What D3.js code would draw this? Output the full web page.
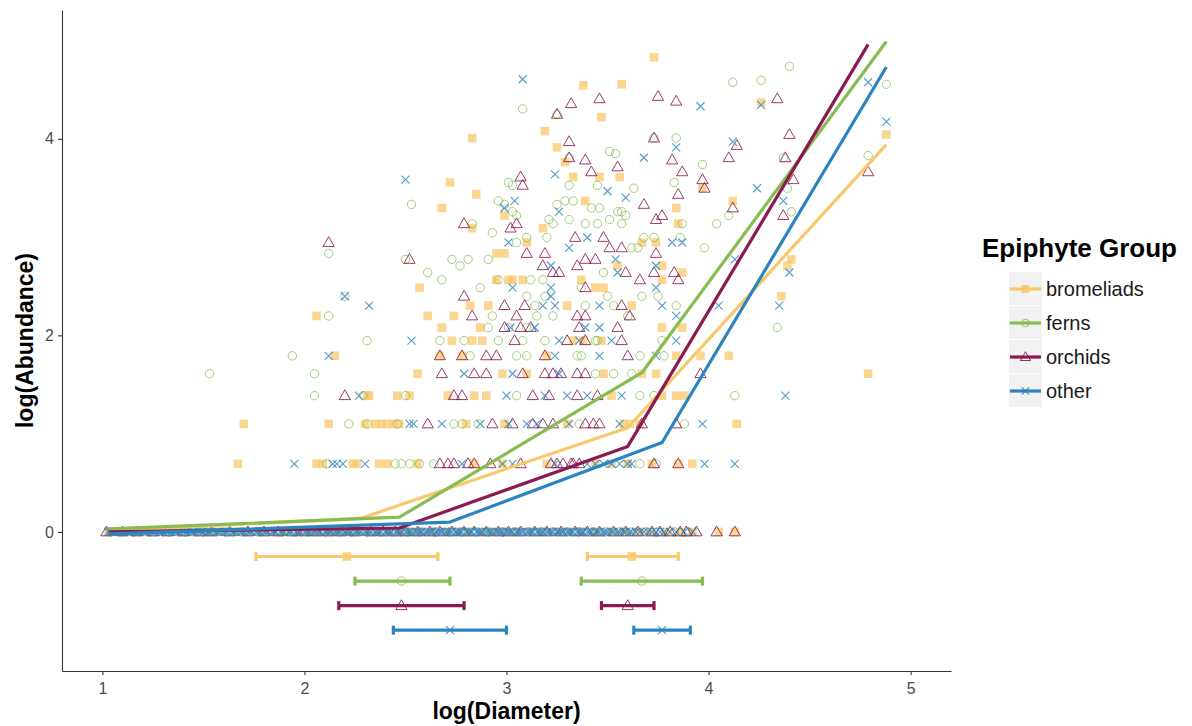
<!DOCTYPE html>
<html>
<head>
<meta charset="utf-8">
<script src="https://cdn.jsdelivr.net/npm/d3@7"></script>
<style>
    body { margin: 0; background: #fff; }
    svg { font-family: "Liberation Sans", Arial, sans-serif; }
</style>
</head>
<body>
<div class="chart"></div>
<script>
// groups, colours
const groups = ["bromeliads", "ferns", "orchids", "other"];
const groupColors = ["#f8c86c", "#86bc52", "#8b1a50", "#2c84bf"];

const xTicks = [1, 2, 3, 4, 5];
const yTicks = [0, 2, 4];

// points: [log(Diameter), Abundance]  (Abundance 1 -> the row at 0)
const bromeliadsZero = [1.03, 1.06, 1.11, 1.18, 1.22, 1.29, 1.37, 1.44, 1.52, 1.58, 1.66, 1.71, 1.79, 1.84, 1.9, 1.97, 2.03, 2.07, 2.13, 2.19, 2.24, 2.3, 2.36, 2.41, 2.47, 2.52, 2.58, 2.63, 2.7, 2.76, 2.81, 2.88, 2.94, 2.99, 3.05, 3.12, 3.18, 3.25, 3.31, 3.37, 3.44, 3.52, 3.58, 3.66, 3.71, 3.79, 3.86, 3.92, 4.05, 4.13];
const fernsZero = [1.04, 1.09, 1.15, 1.23, 1.33, 1.41, 1.5, 1.61, 1.69, 1.77, 1.88, 1.95, 2.02, 2.1, 2.17, 2.23, 2.31, 2.38, 2.44, 2.51, 2.57, 2.65, 2.72, 2.78, 2.85, 2.91, 2.98, 3.04, 3.11, 3.17, 3.23, 3.3, 3.36, 3.43, 3.49, 3.56, 3.62, 3.69, 3.75, 3.83, 3.9];
const orchidsZero = [1.02, 1.1, 1.17, 1.25, 1.32, 1.4, 1.48, 1.54, 1.63, 1.72, 1.8, 1.87, 1.94, 2.0, 2.06, 2.12, 2.18, 2.25, 2.33, 2.39, 2.45, 2.5, 2.56, 2.62, 2.67, 2.73, 2.79, 2.84, 2.9, 2.96, 3.01, 3.07, 3.14, 3.2, 3.27, 3.34, 3.4, 3.46, 3.53, 3.59, 3.65, 3.72, 3.76, 3.81, 3.86, 3.89, 3.94, 4.04, 4.13];
const otherZero = [1.03, 1.04, 1.05, 1.07, 1.08, 1.09, 1.1, 1.12, 1.13, 1.14, 1.16, 1.17, 1.18, 1.2, 1.21, 1.22, 1.24, 1.25, 1.26, 1.28, 1.29, 1.3, 1.32, 1.33, 1.34, 1.36, 1.37, 1.38, 1.4, 1.41, 1.42, 1.44, 1.45, 1.46, 1.48, 1.49, 1.5, 1.52, 1.53, 1.54, 1.56, 1.57, 1.58, 1.6, 1.61, 1.62, 1.64, 1.65, 1.66, 1.68, 1.69, 1.7, 1.72, 1.73, 1.74, 1.76, 1.77, 1.78, 1.8, 1.81, 1.82, 1.84, 1.85, 1.86, 1.88, 1.89, 1.9, 1.92, 1.93, 1.94, 1.96, 1.97, 1.98,
    2.0, 2.01, 2.02, 2.03, 2.05, 2.06, 2.07, 2.08, 2.1, 2.11, 2.12, 2.13, 2.15, 2.16, 2.17, 2.18, 2.2, 2.21, 2.22, 2.23, 2.25, 2.26, 2.27, 2.28, 2.3, 2.31, 2.32, 2.33, 2.35, 2.36, 2.37, 2.38, 2.4, 2.41, 2.42, 2.43, 2.45, 2.46, 2.47, 2.48, 2.5, 2.51, 2.52, 2.53, 2.55, 2.56, 2.57, 2.58, 2.6, 2.61, 2.62, 2.63, 2.65, 2.66, 2.67, 2.68, 2.7, 2.71, 2.72, 2.73, 2.75, 2.76, 2.77, 2.78, 2.8, 2.81, 2.82, 2.83, 2.85, 2.86, 2.87, 2.88, 2.9, 2.91, 2.92, 2.93, 2.95, 2.96, 2.97, 2.98,
    3.0, 3.01, 3.02, 3.03, 3.05, 3.06, 3.07, 3.08, 3.1, 3.11, 3.12, 3.13, 3.15, 3.16, 3.17, 3.18, 3.2, 3.21, 3.22, 3.23, 3.25, 3.26, 3.27, 3.28, 3.3, 3.31, 3.32, 3.33, 3.35, 3.36, 3.37, 3.38, 3.4, 3.41, 3.42, 3.44, 3.45, 3.46, 3.48, 3.49, 3.5, 3.52, 3.53, 3.55, 3.56, 3.58, 3.59, 3.61, 3.62, 3.64, 3.66, 3.68, 3.7, 3.72, 3.74, 3.76, 3.78, 3.81, 3.84, 3.88, 3.92];

const bromeliadsPts = [[3.73, 125], [3.38, 94], [3.57, 95], [3.47, 68], [3.19, 59], [2.83, 55], [3.25, 50], [3.29, 43], [4.26, 79], [4.88, 57],
    [3.33, 37], [3.46, 37], [3.56, 37], [2.72, 35], [3.97, 33], [2.85, 31], [3.39, 29], [4.12, 29], [2.68, 27], [3.84, 27],
    [2.99, 25], [3.85, 23], [2.83, 22], [3.18, 22], [3.10, 19], [3.67, 19], [3.74, 19], [2.95, 17], [2.99, 17], [4.41, 16],
    [4.39, 15], [3.55, 15], [3.77, 15], [3.87, 14], [3.01, 13], [2.95, 13], [3.03, 13], [3.08, 13], [3.77, 13], [3.37, 13],
    [2.57, 12], [3.44, 12], [3.48, 12], [4.36, 11], [2.82, 10], [2.91, 10], [3.30, 10], [3.62, 10], [2.61, 9], [2.74, 9], [2.06, 9],
    [2.68, 8], [2.87, 8], [3.77, 8], [3.87, 8],
    [2.15, 6], [2.73, 7], [2.83, 7], [2.88, 7], [3.33, 7], [3.47, 7], [3.38, 7],
    [2.67, 6], [2.78, 6], [3.84, 6], [3.96, 6], [4.10, 6], [3.20, 6],
    [2.56, 5], [2.98, 5], [3.10, 5], [3.48, 5], [3.67, 5], [3.74, 5], [4.79, 5],
    [2.32, 4], [2.31, 4], [2.46, 4], [2.52, 4], [2.71, 4], [2.84, 4], [2.90, 4], [3.52, 4], [3.77, 4], [3.84, 4], [3.88, 4],
    [1.70, 3], [2.12, 3], [2.30, 3], [2.35, 3], [2.38, 3], [2.41, 3], [2.44, 3], [2.47, 3], [2.80, 3], [2.99, 3], [3.30, 3], [3.58, 3], [3.61, 3], [3.66, 3], [4.14, 3],
    [1.67, 2], [2.06, 2], [2.09, 2], [2.24, 2], [2.26, 2], [2.37, 2], [2.41, 2], [2.56, 2], [2.84, 2], [2.98, 2], [3.20, 2], [3.44, 2], [3.52, 2], [3.60, 2], [3.72, 2], [3.85, 2], [3.92, 2]];

const fernsPts = [[4.40, 114], [4.26, 99], [4.12, 97], [4.88, 95], [3.08, 74], [3.25, 70], [3.73, 55], [3.84, 55], [3.51, 48], [3.54, 47],
    [4.79, 46], [3.31, 45], [4.37, 45], [3.97, 42], [3.01, 35], [3.03, 34], [3.83, 35], [3.31, 34], [3.45, 34], [3.63, 33], [4.39, 33],
    [2.96, 29], [3.29, 29], [3.33, 29], [2.53, 28], [2.99, 28], [3.25, 28], [3.42, 27], [3.46, 27], [3.03, 26], [3.55, 26], [3.57, 26], [4.41, 26],
    [3.05, 25], [3.59, 25], [4.10, 25], [3.21, 24], [3.31, 24], [3.51, 24], [3.23, 23], [2.83, 23], [3.39, 23], [3.45, 23], [3.57, 23], [3.87, 23], [4.04, 23],
    [2.93, 21], [3.20, 20], [3.10, 20], [3.68, 20], [3.73, 20], [3.86, 20], [3.05, 19], [3.62, 18], [3.65, 18], [3.98, 18], [2.12, 17],
    [2.50, 16], [2.73, 16], [2.81, 16], [2.91, 16], [2.77, 15], [2.61, 14], [3.48, 14], [2.68, 13], [3.12, 13], [3.18, 13], [2.96, 13],
    [2.87, 12], [3.37, 12], [2.20, 11], [3.10, 11], [3.19, 11], [3.50, 11], [3.67, 11], [3.75, 11],
    [3.14, 10], [3.39, 10], [3.53, 10], [3.84, 10], [2.12, 9], [2.93, 9], [3.15, 9], [3.23, 9], [3.60, 9],
    [2.91, 8], [3.01, 8], [3.10, 8], [4.34, 8], [2.31, 7], [2.67, 7], [2.79, 7], [2.96, 7], [3.08, 7], [3.19, 7], [3.44, 7], [3.45, 7], [3.77, 7],
    [1.94, 6], [2.82, 6], [3.05, 6], [3.10, 6], [3.35, 6], [3.37, 6], [3.66, 6], [3.78, 6],
    [1.53, 5], [2.05, 5], [3.44, 5], [3.53, 5], [3.62, 5],
    [2.05, 4], [2.29, 4], [2.50, 4], [3.05, 4], [3.66, 4], [3.73, 4], [4.13, 4],
    [2.22, 3], [2.31, 3], [2.46, 3], [2.74, 3], [2.78, 3], [2.86, 3], [3.36, 3], [3.88, 3],
    [2.11, 2], [2.45, 2], [2.48, 2], [2.52, 2], [2.57, 2], [2.64, 2], [3.66, 2], [3.74, 2]];

const orchidsPts = [[3.46, 82], [3.75, 84], [3.84, 80], [4.34, 82], [3.32, 78], [3.25, 70], [4.40, 57], [3.73, 55], [3.31, 53], [4.14, 51],
    [3.31, 45], [4.10, 45], [4.38, 45], [3.39, 44], [3.82, 44], [3.55, 41], [3.42, 39], [3.87, 39], [4.79, 39], [3.07, 37], [3.97, 36], [4.42, 36],
    [3.08, 34], [3.98, 33], [3.85, 31], [3.68, 28], [4.12, 27], [3.77, 25], [4.37, 25], [3.74, 24], [2.79, 23], [3.05, 23], [3.02, 22],
    [3.34, 20], [3.48, 20], [2.12, 19], [3.51, 18], [3.57, 18], [3.10, 17], [3.19, 17], [3.74, 17], [2.52, 16], [3.39, 16], [3.44, 16],
    [3.18, 15], [3.35, 15], [3.23, 14], [3.26, 14], [3.59, 14], [3.73, 14], [3.83, 14], [3.66, 13], [3.85, 13], [3.39, 12],
    [2.79, 11], [2.99, 10], [3.09, 10], [3.57, 10], [2.83, 9], [3.05, 9], [3.35, 9], [3.39, 9], [3.61, 9],
    [2.99, 8], [3.07, 8], [3.12, 8], [3.36, 8], [3.55, 8], [3.04, 7], [3.30, 7], [3.39, 7], [3.57, 7],
    [2.67, 6], [2.78, 6], [2.90, 6], [2.95, 6], [3.19, 6], [3.60, 6],
    [2.68, 5], [2.84, 5], [2.90, 5], [3.08, 5], [3.19, 5], [3.23, 5], [3.27, 5], [3.35, 5], [3.39, 5], [3.96, 5],
    [2.20, 4], [2.74, 4], [2.78, 4], [3.13, 4], [3.21, 4], [3.35, 4], [3.45, 4],
    [2.61, 3], [2.93, 3], [3.03, 3], [3.13, 3], [3.18, 3], [3.23, 3], [3.39, 3], [3.43, 3], [3.46, 3], [3.67, 3], [3.84, 3],
    [2.67, 2], [2.71, 2], [2.74, 2], [2.81, 2], [2.84, 2], [2.92, 2], [3.07, 2], [3.22, 2], [3.25, 2], [3.28, 2], [3.32, 2], [3.33, 2], [3.36, 2], [3.73, 2], [3.85, 2]];

const otherPts = [[3.08, 100], [4.79, 97], [4.26, 77], [3.96, 76], [4.88, 65], [4.12, 53], [3.84, 50], [3.68, 45], [3.24, 38], [2.50, 36],
    [4.24, 33], [3.50, 32], [3.59, 30], [4.37, 29], [3.04, 29], [2.99, 27], [3.26, 26], [3.40, 20], [3.01, 19], [3.82, 19], [3.87, 19],
    [3.31, 18], [3.54, 16], [4.13, 16], [3.22, 15], [3.74, 15], [3.55, 14], [4.40, 14], [3.03, 12], [3.22, 12], [3.74, 12],
    [2.20, 11], [3.22, 11], [2.32, 10], [3.18, 10], [3.24, 10], [3.46, 10], [3.77, 10], [4.05, 10], [4.35, 10], [3.84, 9],
    [3.02, 8], [3.14, 8], [3.39, 8], [3.46, 8], [2.53, 7], [3.26, 7], [3.36, 7], [3.52, 7], [3.84, 7],
    [2.12, 6], [3.24, 6], [3.46, 6], [3.74, 6], [2.79, 5], [3.03, 5], [3.26, 5],
    [2.27, 4], [3.00, 4], [3.19, 4], [3.30, 4], [3.40, 4], [3.57, 4], [4.38, 4],
    [2.52, 3], [2.54, 3], [2.68, 3], [2.87, 3], [3.01, 3], [3.10, 3], [3.15, 3], [3.31, 3], [3.56, 3], [3.97, 3],
    [1.95, 2], [2.14, 2], [2.16, 2], [2.19, 2], [2.30, 2], [2.78, 2], [2.98, 2], [3.03, 2], [3.24, 2], [3.40, 2], [3.44, 2], [3.48, 2], [3.52, 2], [3.56, 2], [3.60, 2], [3.62, 2], [3.98, 2], [4.13, 2]];

// fitted lines: [log(Diameter), log(Abundance)]
const bromeliadsFit = [[1.03, 0.01], [2.28, 0.14], [3.60, 1.06], [4.88, 3.94]];
const fernsFit = [[1.03, 0.03], [2.47, 0.15], [3.67, 1.62], [4.88, 4.99]];
const orchidsFit = [[1.03, 0.00], [2.47, 0.04], [3.60, 0.87], [4.79, 4.96]];
const otherFit = [[1.03, -0.02], [2.72, 0.10], [3.77, 0.91], [4.88, 4.73]];

// range bars under the zero line: [low, mean, high]
const barLevels = [-0.25, -0.5, -0.75, -1.0];
const bromeliadsBars = [[1.76, 2.21, 2.66], [3.40, 3.62, 3.85]];
const fernsBars = [[2.25, 2.48, 2.72], [3.37, 3.67, 3.97]];
const orchidsBars = [[2.17, 2.48, 2.79], [3.47, 3.60, 3.73]];
const otherBars = [[2.44, 2.72, 3.00], [3.63, 3.77, 3.91]];

const zeroRows = [bromeliadsZero, fernsZero, orchidsZero, otherZero];
const pointRows = [bromeliadsPts, fernsPts, orchidsPts, otherPts];
const fits = [bromeliadsFit, fernsFit, orchidsFit, otherFit];
const bars = [bromeliadsBars, fernsBars, orchidsBars, otherBars];

class Chart {

    static width = 1192;
    static height = 726;
    static plot = {left: 62, right: 951, top: 10, bottom: 671};

    svg;
    x;
    y;

    constructor() {
        this.svg = d3.select(".chart").append("svg")
            .attr("width", Chart.width)
            .attr("height", Chart.height);
        this.x = d3.scaleLinear().domain([0.8, 5.2]).range([Chart.plot.left, Chart.plot.right]);
        this.y = d3.scaleLinear().domain([-1.415, 5.31]).range([Chart.plot.bottom, Chart.plot.top]);
    }

    // shape per group like ggplot 15, 1, 2, 4
    static shape(i, k) {
        k = k || 1;
        if (i === 0) {
            const s = 4.3 * k;
            return `M${-s},${-s}H${s}V${s}H${-s}Z`;
        } else if (i === 1) {
            const r = 4.2 * k;
            return `M${r},0A${r},${r} 0 1,1 ${-r},0A${r},${r} 0 1,1 ${r},0Z`;
        } else if (i === 2) {
            const s = 5.6 * k;
            return `M0,${-s * 1.05}L${s},${s * 0.7}L${-s},${s * 0.7}Z`;
        }
        const s = 4 * k;
        return `M${-s},${-s}L${s},${s}M${-s},${s}L${s},${-s}`;
    }

    static styleShape(sel, i, alpha) {
        if (i === 0) {
            sel.attr("fill", groupColors[i]).attr("stroke", "none").attr("opacity", alpha);
        } else {
            sel.attr("fill", "none").attr("stroke", groupColors[i])
                .attr("stroke-width", i === 3 ? 1.15 : 1).attr("opacity", alpha);
        }
    }

    drawPoints() {
        const alphas = [0.75, 0.75, 0.85, 0.8];
        groups.forEach((g, i) => {
            const data = zeroRows[i].map(d => [d, 1]).concat(pointRows[i]);
            const sel = this.svg.append("g").attr("class", "pts-" + g)
                .selectAll("path").data(data).enter()
                .append("path")
                .attr("transform", d => `translate(${this.x(d[0])},${this.y(Math.log(d[1]))})`)
                .attr("d", Chart.shape(i));
            Chart.styleShape(sel, i, alphas[i]);
        });
    }

    drawFits() {
        const line = d3.line().x(d => this.x(d[0])).y(d => this.y(d[1]));
        fits.forEach((f, i) => {
            this.svg.append("path")
                .attr("d", line(f))
                .attr("fill", "none")
                .attr("stroke", groupColors[i])
                .attr("stroke-width", 3.2)
                .attr("stroke-linejoin", "round");
        });
    }

    drawBars() {
        bars.forEach((b, i) => {
            const yy = this.y(barLevels[i]);
            const g = this.svg.append("g").attr("class", "bars-" + groups[i]);
            b.forEach(r => {
                g.append("line")
                    .attr("x1", this.x(r[0])).attr("x2", this.x(r[2]))
                    .attr("y1", yy).attr("y2", yy)
                    .attr("stroke", groupColors[i]).attr("stroke-width", 3.2);
                [r[0], r[2]].forEach(v => {
                    g.append("line")
                        .attr("x1", this.x(v)).attr("x2", this.x(v))
                        .attr("y1", yy - 4.5).attr("y2", yy + 4.5)
                        .attr("stroke", groupColors[i]).attr("stroke-width", 3.2);
                });
                const p = g.append("path")
                    .attr("transform", `translate(${this.x(r[1])},${yy})`)
                    .attr("d", Chart.shape(i));
                Chart.styleShape(p, i, 0.85);
            });
        });
    }

    drawAxes() {
        const xAxis = this.svg.append("g")
            .attr("transform", `translate(0,${Chart.plot.bottom})`)
            .call(d3.axisBottom(this.x).tickValues(xTicks).tickFormat(d3.format("d"))
                .tickSize(4).tickPadding(8).tickSizeOuter(0));
        const yAxis = this.svg.append("g")
            .attr("transform", `translate(${Chart.plot.left},0)`)
            .call(d3.axisLeft(this.y).tickValues(yTicks).tickFormat(d3.format("d"))
                .tickSize(4).tickPadding(4).tickSizeOuter(0));
        [xAxis, yAxis].forEach(a => {
            a.select(".domain").attr("stroke", "#333").attr("stroke-width", 1.1);
            a.selectAll(".tick line").attr("stroke", "#333").attr("stroke-width", 1.1);
            a.selectAll(".tick text").attr("fill", "#4d4d4d").style("font-size", "16px")
                .style("font-family", "'Liberation Sans', Arial, sans-serif");
        });

        this.svg.append("text")
            .attr("x", (Chart.plot.left + Chart.plot.right) / 2)
            .attr("y", 719)
            .attr("text-anchor", "middle")
            .style("font-size", "23px").style("font-weight", "bold")
            .text("log(Diameter)");
        this.svg.append("text")
            .attr("transform", `translate(33,${(Chart.plot.top + Chart.plot.bottom) / 2}) rotate(-90)`)
            .attr("text-anchor", "middle")
            .style("font-size", "23px").style("font-weight", "bold")
            .text("log(Abundance)");
    }

    drawLegend() {
        const lg = this.svg.append("g").attr("transform", "translate(982,0)");
        lg.append("text")
            .attr("x", 0).attr("y", 257)
            .style("font-size", "26px").style("font-weight", "bold")
            .text("Epiphyte Group");
        const keyX = 27, keyW = 33, keyH = 34, top = 272;
        groups.forEach((g, i) => {
            const cy = top + keyH * i + keyH / 2;
            lg.append("rect")
                .attr("x", keyX).attr("y", top + keyH * i)
                .attr("width", keyW).attr("height", keyH - 1)
                .attr("fill", "#f2f2f2");
            lg.append("line")
                .attr("x1", keyX + 1).attr("x2", keyX + keyW - 1)
                .attr("y1", cy).attr("y2", cy)
                .attr("stroke", groupColors[i]).attr("stroke-width", 3.2);
            const p = lg.append("path")
                .attr("transform", `translate(${keyX + keyW / 2},${cy})`)
                .attr("d", Chart.shape(i, 0.9));
            Chart.styleShape(p, i, 0.9);
            lg.append("text")
                .attr("x", keyX + keyW + 4).attr("y", cy + 7)
                .style("font-size", "20px")
                .attr("fill", "#1a1a1a")
                .text(g);
        });
    }

    static launch() {
        const c = new Chart();
        c.drawPoints();
        c.drawFits();
        c.drawBars();
        c.drawAxes();
        c.drawLegend();
    }
}

Chart.launch();
</script>
</body>
</html>
